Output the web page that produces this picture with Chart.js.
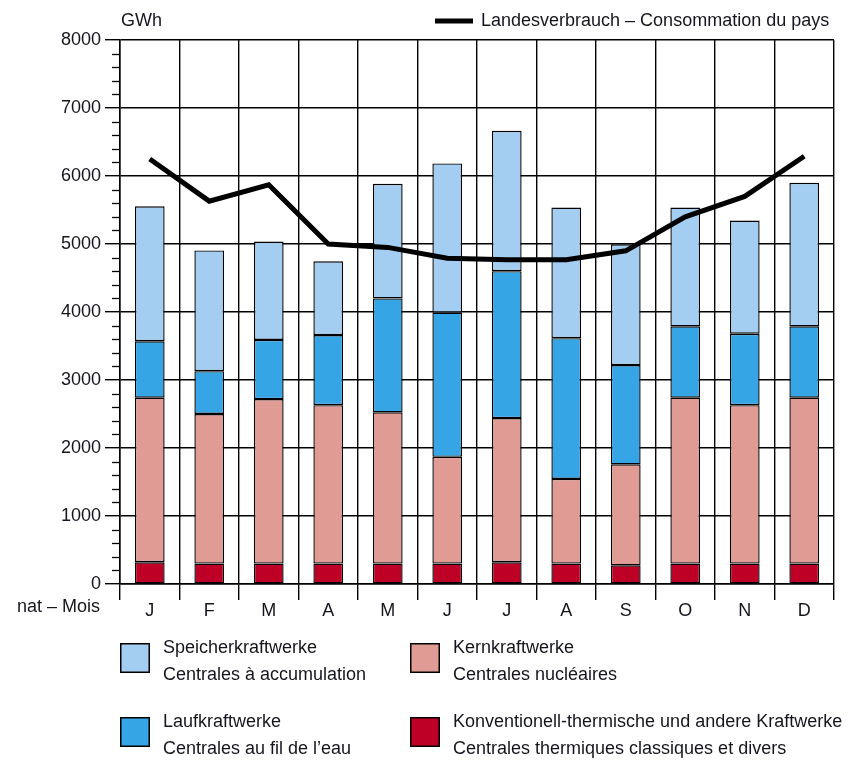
<!DOCTYPE html>
<html>
<head>
<meta charset="utf-8">
<script src="https://cdn.jsdelivr.net/npm/chart.js@4.4.0/dist/chart.umd.min.js"></script>
<style>
  html, body { margin: 0; padding: 0; background: #fff; }
</style>
</head>
<body>
<canvas id="prodChart" width="859" height="762"></canvas>
<script>
// Production d'électricité par mois (GWh)
const months = ['J', 'F', 'M', 'A', 'M', 'J', 'J', 'A', 'S', 'O', 'N', 'D'];
const thermique = [320, 300, 300, 300, 300, 300, 320, 300, 275, 300, 300, 300];
const nucleaire = [2420, 2200, 2420, 2330, 2225, 1570, 2120, 1245, 1485, 2440, 2330, 2440];
const filEau = [830, 630, 870, 1030, 1675, 2120, 2160, 2070, 1460, 1050, 1050, 1050];
const accumulation = [1985, 1775, 1445, 1085, 1685, 2195, 2065, 1920, 1775, 1745, 1665, 2110];
const consommation = [6250, 5630, 5870, 5000, 4950, 4790, 4770, 4770, 4900, 5400, 5700, 6290];
const minorStep = 200;

const textColor = '#15151f';
const fontName = '"Liberation Sans", Arial, sans-serif';

const legendItems = [
  { color: '#a3cef1', l1: 'Speicherkraftwerke', l2: 'Centrales à accumulation', x: 120, y: 643 },
  { color: '#e09c94', l1: 'Kernkraftwerke', l2: 'Centrales nucléaires', x: 410, y: 643 },
  { color: '#36a5e6', l1: 'Laufkraftwerke', l2: 'Centrales au fil de l’eau', x: 120, y: 717 },
  { color: '#be0026', l1: 'Konventionell-thermische und andere Kraftwerke', l2: 'Centrales thermiques classiques et divers', x: 410, y: 717 }
];

// textes, petites graduations et légende
const extras = {
  id: 'extras',
  afterDraw(chart) {
    const c = chart.ctx;
    const area = chart.chartArea;
    const y = chart.scales.y;
    c.save();

    // graduations mineures
    c.strokeStyle = '#000';
    c.lineWidth = 1.3;
    for (let v = y.min; v <= y.max; v += minorStep) {
      if (v % 1000 === 0) continue;
      const py = Math.round(y.getPixelForValue(v)) + 0.5;
      c.beginPath();
      c.moveTo(area.left - 8, py);
      c.lineTo(area.left, py);
      c.stroke();
    }

    c.fillStyle = textColor;
    c.font = '18px ' + fontName;
    c.textBaseline = 'middle';
    c.textAlign = 'left';
    c.fillText('GWh', area.left + 1, 21);
    c.textAlign = 'right';
    c.fillText('nat – Mois', 100, 607);

    // ligne consommation
    c.strokeStyle = '#000';
    c.lineWidth = 5;
    c.beginPath();
    c.moveTo(435, 21);
    c.lineTo(473, 21);
    c.stroke();
    c.textAlign = 'left';
    c.fillText('Landesverbrauch – Consommation du pays', 481, 21);

    legendItems.forEach(it => {
      c.fillStyle = it.color;
      c.fillRect(it.x, it.y, 30, 30);
      c.lineWidth = 1.5;
      c.strokeStyle = '#000';
      c.strokeRect(it.x + 0.75, it.y + 0.75, 28.5, 28.5);
      c.fillStyle = textColor;
      c.fillText(it.l1, it.x + 43, it.y + 5);
      c.fillText(it.l2, it.x + 43, it.y + 32);
    });
    c.restore();
  }
};

const barStyle = { borderColor: '#000', borderWidth: 1.4, barPercentage: 0.5, categoryPercentage: 1, order: 1, borderSkipped: false };

new Chart(document.getElementById('prodChart'), {
  data: {
    labels: months,
    datasets: [
      { type: 'line', label: 'Landesverbrauch', data: consommation, borderColor: '#000', borderWidth: 5,
        pointRadius: 0, tension: 0, fill: false, order: 0, stack: 'conso' },
      Object.assign({ type: 'bar', label: 'Thermique', data: thermique, backgroundColor: '#be0026', stack: 'prod' }, barStyle),
      Object.assign({ type: 'bar', label: 'Nucléaire', data: nucleaire, backgroundColor: '#e09c94', stack: 'prod' }, barStyle),
      Object.assign({ type: 'bar', label: 'Fil de l’eau', data: filEau, backgroundColor: '#36a5e6', stack: 'prod' }, barStyle),
      Object.assign({ type: 'bar', label: 'Accumulation', data: accumulation, backgroundColor: '#a3cef1', stack: 'prod' }, barStyle)
    ]
  },
  options: {
    responsive: false,
    animation: false,
    devicePixelRatio: 1,
    layout: { padding: { top: 40, right: 25, left: 0, bottom: 138 } },
    plugins: { legend: { display: false }, tooltip: { enabled: false } },
    scales: {
      x: {
        stacked: true,
        offset: true,
        grid: { offset: true, color: '#000', lineWidth: 1.4, tickLength: 16 },
        border: { color: '#000', width: 1.5 },
        ticks: { color: textColor, font: { family: fontName, size: 18 }, padding: 0, maxRotation: 0 },
        afterFit(scale) { scale.height = 40; }
      },
      y: {
        stacked: true,
        min: 0,
        max: 8000,
        grid: { color: '#000', lineWidth: 1.4, tickLength: 15 },
        border: { color: '#000', width: 1.5 },
        ticks: { stepSize: 1000, color: textColor, font: { family: fontName, size: 18 }, padding: 4,
          callback: v => String(v) },
        afterFit(scale) { scale.width = 120; }
      }
    }
  },
  plugins: [extras]
});
</script>
</body>
</html>
